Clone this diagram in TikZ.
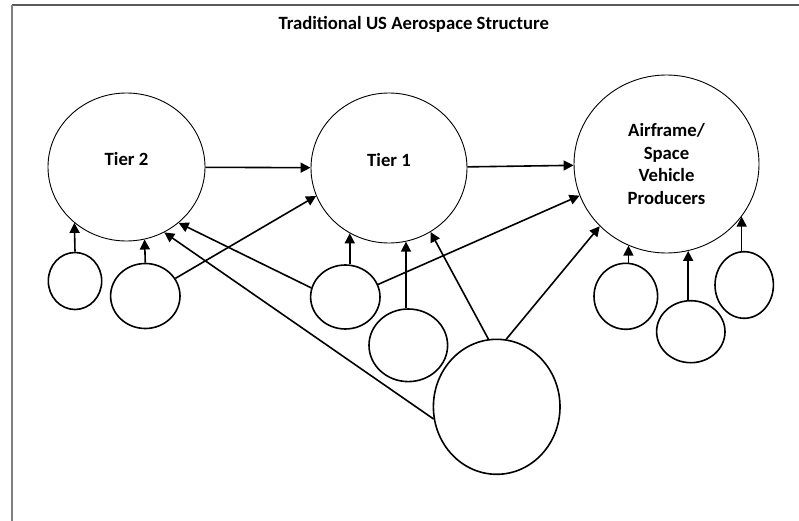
\documentclass[tikz,border=0pt]{standalone}
\usepackage{fontspec}
\setmainfont{Carlito}
\usetikzlibrary{shapes.geometric,arrows.meta}
\begin{document}
\begin{tikzpicture}[x=1pt,y=-1pt,
  txt/.style={font=\bfseries\fontsize{18.7}{22.67}\selectfont},
  big/.style={draw, ellipse, line width=0.9pt, inner sep=0pt, txt, align=center},
  tiertext/.style={text height=12pt, text depth=14pt},
  small/.style={draw, ellipse, line width=1.6pt, inner sep=0pt},
  arr/.style={line width=1.6pt, -{Triangle[length=10pt,width=10pt]}},
  framet/.style={line width=1.5pt, color=black!65},
  framel/.style={line width=1.5pt, color=black!50}]
\useasboundingbox (0,0) rectangle (799,521);
% frame
\coordinate (fc) at (12,5);
\coordinate (fr) at (799,5);
\coordinate (fb) at (12,521);
\draw[framet] (fc) -- (fr);
\draw[framel] (fc) -- (fb);
% title
\node[txt, anchor=base, inner sep=0pt] (title) at (413.7,30) {Traditional US Aerospace Structure};
% main ellipses
\node[big, tiertext, minimum width=157pt, minimum height=148pt] (T2) at (126.5,167) {Tier 2};
\node[big, tiertext, minimum width=156pt, minimum height=150pt] (T1) at (389,168) {Tier 1};
\node[big, minimum width=185pt, minimum height=178pt] (AF) at (666.5,164) {Airframe/\\Space\\Vehicle\\Producers};
% small ellipses
\node[small, minimum width=53.4pt, minimum height=57pt] (A) at (75,281) {};
\node[small, minimum width=69.4pt, minimum height=65pt] (B) at (145.3,296) {};
\node[small, minimum width=69.4pt, minimum height=64pt] (C) at (345.3,297) {};
\node[small, minimum width=78.6pt, minimum height=72.6pt] (D) at (408.3,345.3) {};
\node[small, minimum width=126.6pt, minimum height=135pt] (E) at (496.7,406.8) {};
\node[small, minimum width=63.6pt, minimum height=66pt] (F) at (625.8,296.3) {};
\node[small, minimum width=68.4pt, minimum height=62pt] (G) at (690.8,331.7) {};
\node[small, minimum width=58.4pt, minimum height=66.6pt] (H) at (744.2,285) {};
% connectors
\draw[arr] (T2) -- (T1);
\draw[arr] (T1) -- (AF);
\draw[arr] (A.north) -- (T2.227);
\draw[arr] (B.north) -- (T2.284);
\draw[arr] (B) -- (T1.201);
\draw[arr] (T1.239 |- C.north) -- (T1.239);
\draw[arr] (C.165) -- (T2.313);
\draw[arr] (C.21) -- (AF.200);
\draw[arr] (T1.283 |- D.north) -- (T1.283);
\draw[arr] (E.191) -- (T2.300);
\draw[arr] (E.97) -- (T1.303);
\draw[arr] (E.82) -- (AF.223);
\draw[arr] (AF.245 |- F.north) -- (AF.245);
\draw[arr] (AF.284 |- G.north) -- (AF.284);
\draw[arr] (AF.325 |- H.north) -- (AF.325);
\end{tikzpicture}
\end{document}
